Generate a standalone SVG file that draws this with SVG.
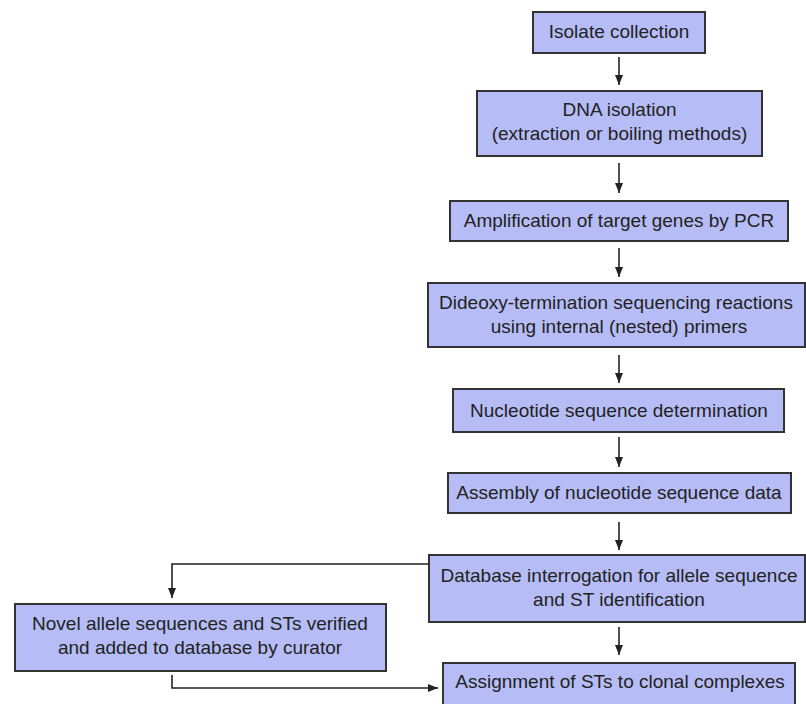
<svg xmlns="http://www.w3.org/2000/svg" width="806" height="704" viewBox="0 0 806 704">
<defs>
<style>
.box{fill:#b6bdf6;stroke:#333;stroke-width:2}
.t{font-family:"Liberation Sans",Arial,sans-serif;font-size:19px;fill:#222;text-anchor:middle}
.c{fill:none;stroke:#222;stroke-width:1.6}
</style>
<marker id="ah" markerUnits="userSpaceOnUse" markerWidth="10" markerHeight="8" refX="10" refY="4" orient="auto">
<path d="M0,0 L10,4 L0,8 Z" fill="#222"/>
</marker>
</defs>
<rect width="806" height="704" fill="#fff"/>
<g id="n1"><rect class="box" x="533" y="12" width="172" height="41"/><text class="t" x="619" y="38">Isolate collection</text></g>
<g id="n2"><rect class="box" x="477" y="91" width="285" height="65"/><text class="t" x="619.5" y="116">DNA isolation</text><text class="t" x="619.5" y="140">(extraction or boiling methods)</text></g>
<g id="n3"><rect class="box" x="450" y="201" width="338" height="40"/><text class="t" x="619" y="227">Amplification of target genes by PCR</text></g>
<g id="n4"><rect class="box" x="428" y="283" width="377" height="64"/><text class="t" x="616" y="309">Dideoxy-termination sequencing reactions</text><text class="t" x="619" y="333">using internal (nested) primers</text></g>
<g id="n5"><rect class="box" x="453" y="389" width="331" height="43"/><text class="t" x="619" y="417">Nucleotide sequence determination</text></g>
<g id="n6"><rect class="box" x="448" y="473" width="343" height="40"/><text class="t" x="619" y="499">Assembly of nucleotide sequence data</text></g>
<g id="n7"><rect class="box" x="429" y="555" width="376" height="67"/><text class="t" x="619" y="582">Database interrogation for allele sequence</text><text class="t" x="619" y="606">and ST identification</text></g>
<g id="n8"><rect class="box" x="15" y="604" width="371" height="67"/><text class="t" x="200" y="630">Novel allele sequences and STs verified</text><text class="t" x="200" y="654">and added to database by curator</text></g>
<g id="n9"><rect class="box" x="443" y="663" width="352" height="50"/><text class="t" x="620" y="688">Assignment of STs to clonal complexes</text></g>
<g id="connectors">
<line class="c" x1="619" y1="57" x2="619" y2="85" marker-end="url(#ah)"/>
<line class="c" x1="619" y1="163" x2="619" y2="193" marker-end="url(#ah)"/>
<line class="c" x1="619" y1="248" x2="619" y2="277" marker-end="url(#ah)"/>
<line class="c" x1="619" y1="355" x2="619" y2="383" marker-end="url(#ah)"/>
<line class="c" x1="619" y1="437" x2="619" y2="467" marker-end="url(#ah)"/>
<line class="c" x1="619" y1="522" x2="619" y2="550" marker-end="url(#ah)"/>
<line class="c" x1="619" y1="627" x2="619" y2="655" marker-end="url(#ah)"/>
<polyline class="c" points="429,564 172,564 172,598" marker-end="url(#ah)"/>
<polyline class="c" points="172,675 172,688 438,688" marker-end="url(#ah)"/>
</g>
</svg>
